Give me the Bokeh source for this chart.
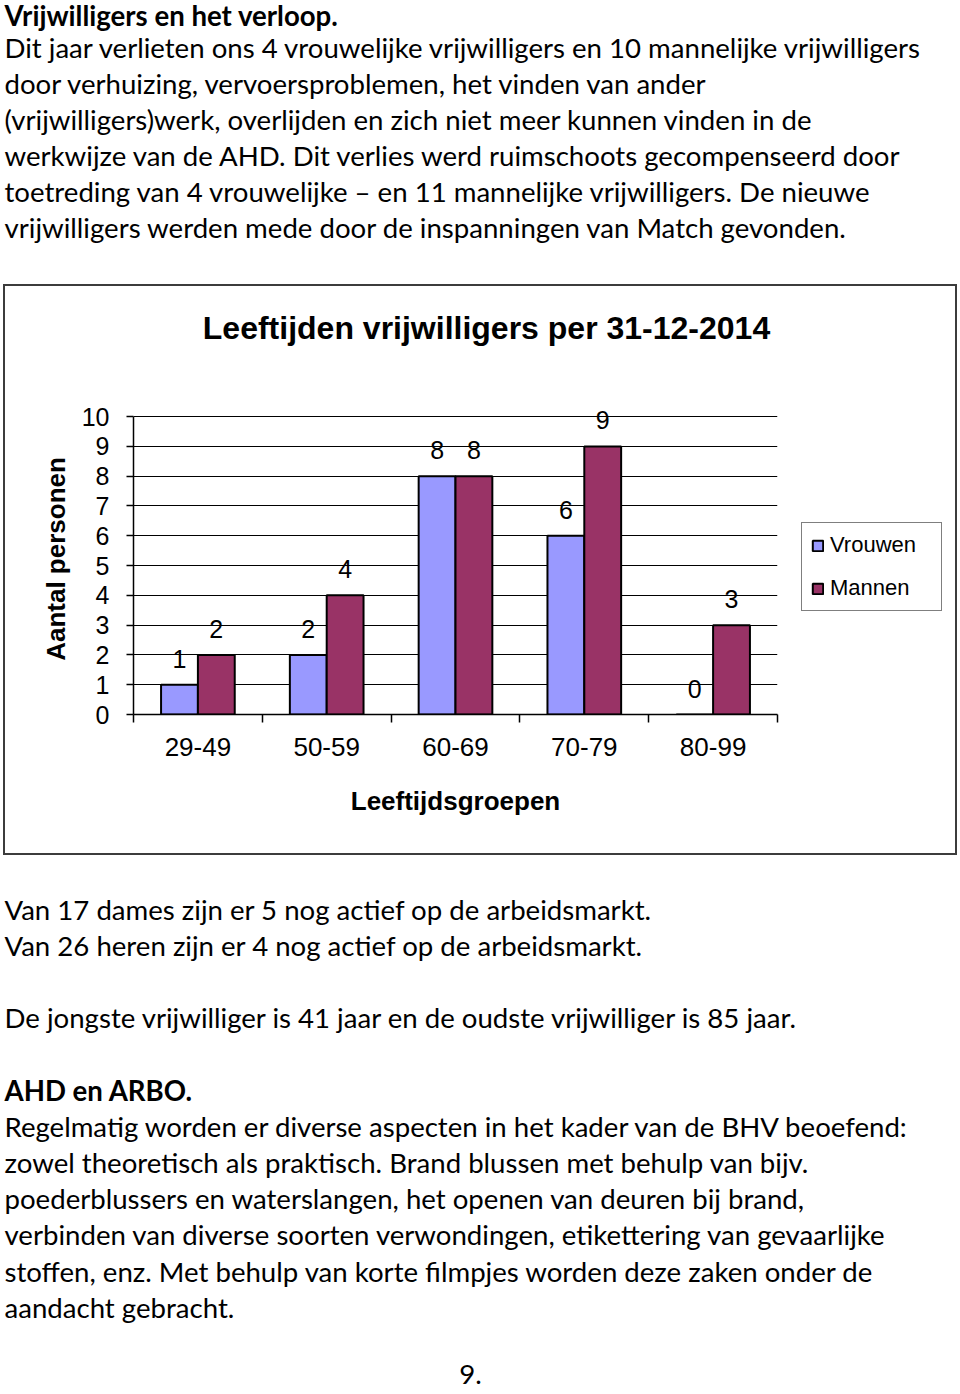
from bokeh.plotting import figure
from bokeh.models import ColumnDataSource, Range1d, FixedTicker, Legend, LegendItem, Spacer
from bokeh.layouts import column, row
from bokeh.embed import file_html
from bokeh.resources import INLINE
from bokeh.core.properties import value
from bokeh.transform import dodge

# ---------------- data ----------------
categories = ["29-49", "50-59", "60-69", "70-79", "80-99"]
vrouwen = [1, 2, 8, 6, 0]
mannen = [2, 4, 8, 9, 3]
series_names = ["Vrouwen", "Mannen"]
series_colors = ["#9999FF", "#993366"]
y_ticks = [0, 1, 2, 3, 4, 5, 6, 7, 8, 9, 10]
chart_title = "Leeftijden vrijwilligers per 31-12-2014"
x_title = "Leeftijdsgroepen"
y_title = "Aantal personen"

top_heading = "Vrijwilligers en het verloop."
top_lines = [
    "Dit jaar verlieten ons 4 vrouwelijke vrijwilligers en 10 mannelijke vrijwilligers",
    "door verhuizing, vervoersproblemen, het vinden van ander",
    "(vrijwilligers)werk, overlijden en zich niet meer kunnen vinden in de",
    "werkwijze van de AHD. Dit verlies werd ruimschoots gecompenseerd door",
    "toetreding van 4 vrouwelijke \u2013 en 11 mannelijke vrijwilligers. De nieuwe",
    "vrijwilligers werden mede door de inspanningen van Match gevonden.",
]
bottom_rows = [0, 1, 3, 6, 7, 8, 9, 10, 11]
bottom_lines = [
    "Van 17 dames zijn er 5 nog actief op de arbeidsmarkt.",
    "Van 26 heren zijn er 4 nog actief op de arbeidsmarkt.",
    "De jongste vrijwilliger is 41 jaar en de oudste vrijwilliger is 85 jaar.",
    "Regelmatig worden er diverse aspecten in het kader van de BHV beoefend:",
    "zowel theoretisch als praktisch. Brand blussen met behulp van bijv.",
    "poederblussers en waterslangen, het openen van deuren bij brand,",
    "verbinden van diverse soorten verwondingen, etikettering van gevaarlijke",
    "stoffen, enz. Met behulp van korte filmpjes worden deze zaken onder de",
    "aandacht gebracht.",
]
bottom_heading_row = 5
bottom_heading = "AHD en ARBO."
page_number = "9."

BODY_FONT = "Lato"
BODY_SIZE = "27.6px"
CHART_FONT = "Liberation Sans"
W = 960


def text_fig(w, h):
    f = figure(width=w, height=h, x_range=Range1d(0, w), y_range=Range1d(h, 0),
               x_axis_type=None, y_axis_type=None, toolbar_location=None,
               output_backend="svg", min_border=0, outline_line_color=None,
               frame_align=False)
    return f


# ---------------- top text ----------------
TOP_H = 284
top = text_fig(W, TOP_H)
base0, step_top = 11, 36
top.text(x=[4], y=[base0 + 4], text=[top_heading], text_font=value(BODY_FONT),
         text_font_size=BODY_SIZE, text_font_style="bold", text_baseline="alphabetic",
         text_color="black")
top.text(x=[4] * len(top_lines), y=[base0 + step_top * (i + 1) for i in range(len(top_lines))],
         text=top_lines, text_font=value(BODY_FONT), text_font_size=BODY_SIZE,
         text_baseline="alphabetic", text_color="black")

# ---------------- chart box ----------------
BOX_W = 950          # inner width of the bordered box
TITLE_H = 114
CH_H = 453
P_W = 774
N = len(categories)

tfig = text_fig(BOX_W, TITLE_H)
tfig.text(x=[481], y=[41], text=[chart_title], text_font=value(CHART_FONT),
          text_font_size="32px", text_font_style="bold", text_align="center",
          text_baseline="alphabetic", text_color="black")

p = figure(width=P_W, height=CH_H, x_range=Range1d(0, N),
           y_range=Range1d(0, 10.44),
           toolbar_location=None, output_backend="svg", frame_align=False,
           min_border_left=128, min_border_right=2, min_border_top=3, min_border_bottom=139)
p.outline_line_color = None
p.background_fill_color = "white"

src = ColumnDataSource(dict(
    idx=list(range(N)),
    v=vrouwen, m=mannen,
    vl=[str(x) for x in vrouwen], ml=[str(x) for x in mannen],
))
off = 0.143
bw = 0.286
bar_specs = [(0.5 - off, "v", series_colors[0]), (0.5 + off, "m", series_colors[1])]
for dx, col, colr in bar_specs:
    p.vbar(x=dodge("idx", dx), top=col, width=bw, source=src,
           fill_color=colr, line_color="black", line_width=2)

lbl_kw = dict(source=src, text_font=value(CHART_FONT), text_font_size="25px",
              text_align="center", text_baseline="middle", y_offset=-26, text_color="black")
p.text(x=dodge("idx", 0.5 - off), y="v", text="vl", **lbl_kw)
p.text(x=dodge("idx", 0.5 + off), y="m", text="ml", **lbl_kw)

# axes
xa = p.xaxis[0]
xa.ticker = FixedTicker(ticks=[i + 0.5 for i in range(N)], minor_ticks=list(range(N + 1)))
xa.major_label_overrides = {i + 0.5: c for i, c in enumerate(categories)}
xa.major_tick_out = 0
xa.major_tick_in = 0
xa.minor_tick_out = 8
xa.minor_tick_in = 0
xa.minor_tick_line_color = "black"
xa.minor_tick_line_width = 1.5
xa.axis_line_color = "black"
xa.axis_line_width = 1.5
xa.major_label_text_font = CHART_FONT
xa.major_label_text_font_size = "26px"
xa.major_label_text_color = "black"
xa.major_label_standoff = 15
xa.axis_label = x_title
xa.axis_label_text_font = CHART_FONT
xa.axis_label_text_font_style = "bold"
xa.axis_label_text_font_size = "26px"
xa.axis_label_text_color = "black"
xa.axis_label_standoff = 27

ya = p.yaxis[0]
ya.ticker = FixedTicker(ticks=y_ticks, minor_ticks=[])
ya.bounds = (y_ticks[0], y_ticks[-1])
ya.major_tick_out = 7
ya.major_tick_in = 0
ya.major_tick_line_color = "black"
ya.major_tick_line_width = 1.5
ya.axis_line_color = "black"
ya.axis_line_width = 1.5
ya.major_label_text_font = CHART_FONT
ya.major_label_text_font_size = "25px"
ya.major_label_text_color = "black"
ya.major_label_standoff = 17
ya.axis_label = y_title
ya.axis_label_text_font = CHART_FONT
ya.axis_label_text_font_style = "bold"
ya.axis_label_text_font_size = "26px"
ya.axis_label_text_color = "black"
ya.axis_label_standoff = 8

p.xgrid.visible = False
p.ygrid.grid_line_color = "black"
p.ygrid.grid_line_width = 1

# ---------------- legend panel (right of the plot area) ----------------
lfig = figure(width=BOX_W - P_W, height=CH_H, x_range=Range1d(0, N), y_range=Range1d(0, 10),
              x_axis_type=None, y_axis_type=None, toolbar_location=None,
              output_backend="svg", min_border=0, outline_line_color=None,
              frame_align=False)
# hidden copies of the two bar series, used only to draw the legend swatches
proxies = [lfig.vbar(x=dodge("idx", dx), top=col, width=bw, source=src, fill_color=colr,
                     line_color="black", line_width=2, visible=False)
           for dx, col, colr in bar_specs]
legend = Legend(items=[LegendItem(label=n, renderers=[r]) for n, r in zip(series_names, proxies)],
                location=(22, 242))
legend.border_line_color = "black"
legend.border_line_width = 1
legend.background_fill_color = "white"
legend.background_fill_alpha = 1
legend.label_text_font = CHART_FONT
legend.label_text_font_size = "22px"
legend.label_text_color = "black"
legend.glyph_width = 13
legend.glyph_height = 13
legend.label_standoff = 6
legend.label_height = 22
legend.label_width = 102
legend.spacing = 17
legend.padding = 9
legend.margin = 0
lfig.add_layout(legend)

box = column(tfig, row(p, lfig, spacing=0), spacing=0,
             styles={"border": "2px solid #3c3c3c"})
chart_row = row(Spacer(width=3, height=10), box, spacing=0)

# ---------------- bottom text ----------------
BOT_H = 536
bot = text_fig(W, BOT_H)
b0, step_b = 53.5, 36.2
bot.text(x=[4] * len(bottom_lines), y=[b0 + step_b * r for r in bottom_rows],
         text=bottom_lines, text_font=value(BODY_FONT), text_font_size=BODY_SIZE,
         text_baseline="alphabetic", text_color="black")
bot.text(x=[4], y=[b0 + step_b * bottom_heading_row], text=[bottom_heading],
         text_font=value(BODY_FONT), text_font_size=BODY_SIZE, text_font_style="bold",
         text_baseline="alphabetic", text_color="black")
bot.text(x=[470], y=[519], text=[page_number], text_font=value(BODY_FONT),
         text_font_size=BODY_SIZE, text_align="center", text_baseline="alphabetic",
         text_color="black")

layout = column(top, chart_row, bot, spacing=0)
open("out.html", "w").write(file_html(layout, INLINE))
